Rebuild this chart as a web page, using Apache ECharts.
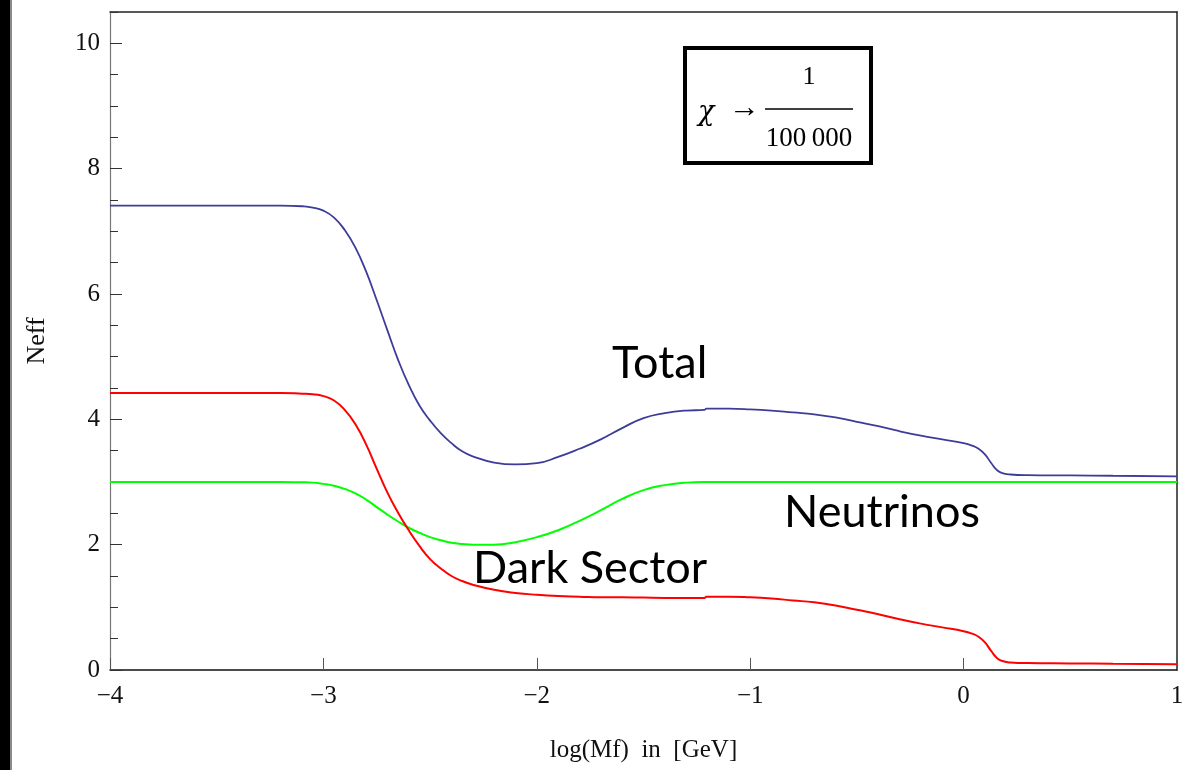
<!DOCTYPE html>
<html>
<head>
<meta charset="utf-8">
<script src="https://cdn.jsdelivr.net/npm/echarts@6/dist/echarts.min.js"></script>
<style>
  html, body { margin: 0; padding: 0; background: #fff; }
  #chart { width: 1198px; height: 770px; }
</style>
</head>
<body>
<div id="chart"></div>
<script>
// Sample points in log10(Mf / GeV); a duplicated point near -1.21 carries the small step.
const logMf = [-4, -3.5, -3.2, -3.1, -3.05, -3.0, -2.95, -2.9, -2.85, -2.8, -2.75, -2.7, -2.65, -2.6, -2.55,
  -2.5, -2.45, -2.4, -2.35, -2.3, -2.2, -2.1, -2.0, -1.9, -1.8, -1.7, -1.6, -1.5, -1.4, -1.3,
  -1.215, -1.205, -1.1, -1.0, -0.9, -0.8, -0.7, -0.6, -0.5, -0.4, -0.3, -0.2, -0.1, 0.0,
  0.04, 0.07, 0.1, 0.13, 0.16, 0.19, 0.22, 0.3, 0.5, 0.7, 1.0];

const neffTotal = [7.41, 7.41, 7.41, 7.40, 7.38, 7.33, 7.22, 7.02, 6.74, 6.36, 5.90, 5.42, 4.95, 4.55, 4.22,
  3.98, 3.78, 3.62, 3.49, 3.41, 3.31, 3.28, 3.30, 3.40, 3.53, 3.68, 3.86, 4.02, 4.10, 4.14,
  4.15, 4.17, 4.17, 4.16, 4.14, 4.11, 4.08, 4.03, 3.96, 3.89, 3.81, 3.74, 3.68, 3.62,
  3.58, 3.53, 3.44, 3.30, 3.18, 3.135, 3.12, 3.11, 3.105, 3.10, 3.09];

const neffNeutrinos = [3.0, 3.0, 3.0, 2.995, 2.99, 2.97, 2.94, 2.89, 2.82, 2.72, 2.60, 2.48, 2.37, 2.27, 2.19,
  2.12, 2.07, 2.03, 2.01, 2.00, 2.00, 2.04, 2.12, 2.23, 2.38, 2.55, 2.73, 2.87, 2.95, 2.99,
  3.0, 3.0, 3.0, 3.0, 3.0, 3.0, 3.0, 3.0, 3.0, 3.0, 3.0, 3.0, 3.0, 3.0,
  3.0, 3.0, 3.0, 3.0, 3.0, 3.0, 3.0, 3.0, 3.0, 3.0, 3.0];

const neffDark = [4.42, 4.42, 4.42, 4.41, 4.40, 4.37, 4.30, 4.15, 3.92, 3.60, 3.21, 2.83, 2.51, 2.23, 1.98,
  1.77, 1.62, 1.50, 1.42, 1.36, 1.28, 1.23, 1.20, 1.18, 1.17, 1.16, 1.16, 1.155, 1.15, 1.15,
  1.15, 1.17, 1.17, 1.16, 1.14, 1.11, 1.08, 1.03, 0.96, 0.89, 0.81, 0.74, 0.68, 0.62,
  0.58, 0.53, 0.44, 0.30, 0.18, 0.135, 0.12, 0.11, 0.105, 0.10, 0.09];

const xTicks = [-4, -3, -2, -1, 0, 1];
const yTicks = [0, 2, 4, 6, 8, 10];

const curveLabels = ['Total', 'Neutrinos', 'Dark Sector'];
const chiValue = ['1', '100\u2009000'];

const pairs = ys => logMf.map((x, i) => [x, ys[i]]);
const minus = v => String(v).replace('-', '\u2212');

const serif = '"Liberation Serif", "DejaVu Serif", serif';
const sans = 'Lato, "Open Sans", sans-serif';

const chart = echarts.init(document.getElementById('chart'), null, { renderer: 'canvas' });

chart.setOption({
  animation: false,
  backgroundColor: '#fff',
  grid: { left: 110, right: 21, top: 12, bottom: 100 },
  xAxis: [
    {
      type: 'value', min: -4, max: 1, interval: 1,
      name: 'log(Mf)  in  [GeV]', nameLocation: 'middle', nameGap: 80,
      nameTextStyle: { fontFamily: serif, fontSize: 25, color: '#111', verticalAlign: 'middle' },
      axisLine: { show: true, onZero: false, lineStyle: { color: '#111', width: 1.5 } },
      axisTick: { show: true, inside: true, length: 12, lineStyle: { color: '#555', width: 1 } },
      axisLabel: {
        margin: 14, fontFamily: serif, fontSize: 25, color: '#111',
        formatter: v => xTicks.includes(v) ? minus(v) : ''
      },
      splitLine: { show: false }
    },
    {
      type: 'value', position: 'top', min: -4, max: 1,
      axisLine: { show: true, onZero: false, lineStyle: { color: '#222', width: 1.5 } },
      axisTick: { show: false }, axisLabel: { show: false }, splitLine: { show: false }
    }
  ],
  yAxis: [
    {
      type: 'value', min: 0, max: 10.5, interval: 2,
      name: 'Neff', nameLocation: 'middle', nameGap: 73, nameRotate: 90,
      nameTextStyle: { fontFamily: serif, fontSize: 26, color: '#111', verticalAlign: 'middle' },
      axisLine: { show: true, onZero: false, lineStyle: { color: '#777', width: 1.2 } },
      axisTick: { show: true, inside: true, length: 12, lineStyle: { color: '#333', width: 1 } },
      axisLabel: {
        margin: 10, fontFamily: serif, fontSize: 25, color: '#111', showMaxLabel: false,
        formatter: v => yTicks.includes(v) ? String(v) : ''
      },
      splitLine: { show: false }
    },
    {
      // half-unit minor ticks on the left edge
      type: 'value', position: 'left', min: 0, max: 10.5, interval: 0.5,
      axisLine: { show: false, onZero: false },
      axisTick: { show: true, inside: true, length: 8, lineStyle: { color: '#333', width: 1 } },
      axisLabel: { show: false }, splitLine: { show: false }
    },
    {
      type: 'value', position: 'right', min: 0, max: 10.5,
      axisLine: { show: true, onZero: false, lineStyle: { color: '#222', width: 1.5 } },
      axisTick: { show: false }, axisLabel: { show: false }, splitLine: { show: false }
    }
  ],
  series: [
    {
      name: 'Total', type: 'line', data: pairs(neffTotal), showSymbol: false,
      smooth: 0.5, lineStyle: { color: '#3d3d99', width: 1.8 }, z: 3
    },
    {
      name: 'Neutrinos', type: 'line', data: pairs(neffNeutrinos), showSymbol: false,
      smooth: 0.5, lineStyle: { color: '#00ff00', width: 2 }, z: 4
    },
    {
      name: 'Dark Sector', type: 'line', data: pairs(neffDark), showSymbol: false,
      smooth: 0.5, lineStyle: { color: '#ff0000', width: 2 }, z: 5
    }
  ],
  graphic: [
    // dark strip along the left edge
    { type: 'rect', left: 0, top: 0, shape: { width: 10, height: 770 }, style: { fill: '#000' }, silent: true },
    { type: 'rect', left: 10, top: 0, shape: { width: 2, height: 770 }, style: { fill: '#8a8a8a' }, silent: true },

    // curve names
    { type: 'text', x: 612, y: 363, style: { text: curveLabels[0], font: '45px ' + sans, fill: '#000', textVerticalAlign: 'middle' } },
    { type: 'text', x: 784, y: 512, style: { text: curveLabels[1], font: '45px ' + sans, fill: '#000', textVerticalAlign: 'middle' } },
    { type: 'text', x: 473, y: 568, style: { text: curveLabels[2], font: '45px ' + sans, fill: '#000', textVerticalAlign: 'middle' } },

    // coupling box
    { type: 'rect', shape: { x: 685, y: 48, width: 186, height: 115 }, style: { fill: '#fff', stroke: '#000', lineWidth: 4 }, z: 10 },
    { type: 'text', x: 698, y: 113, z: 11, style: { text: '\u03c7', font: 'italic 27px "DejaVu Serif", serif', fill: '#000', textVerticalAlign: 'middle' } },
    { type: 'text', x: 729, y: 109, z: 11, style: { text: '\u2192', font: '31px ' + serif, fill: '#000', textVerticalAlign: 'middle' } },
    { type: 'text', x: 809, y: 77, z: 11, style: { text: chiValue[0], font: '26px ' + serif, fill: '#000', textAlign: 'center', textVerticalAlign: 'middle' } },
    { type: 'line', z: 11, shape: { x1: 765, y1: 109, x2: 853, y2: 109 }, style: { stroke: '#000', lineWidth: 1.5 } },
    { type: 'text', x: 809, y: 139, z: 11, style: { text: chiValue[1], font: '27px ' + serif, fill: '#000', textAlign: 'center', textVerticalAlign: 'middle' } }
  ]
});
</script>
</body>
</html>
